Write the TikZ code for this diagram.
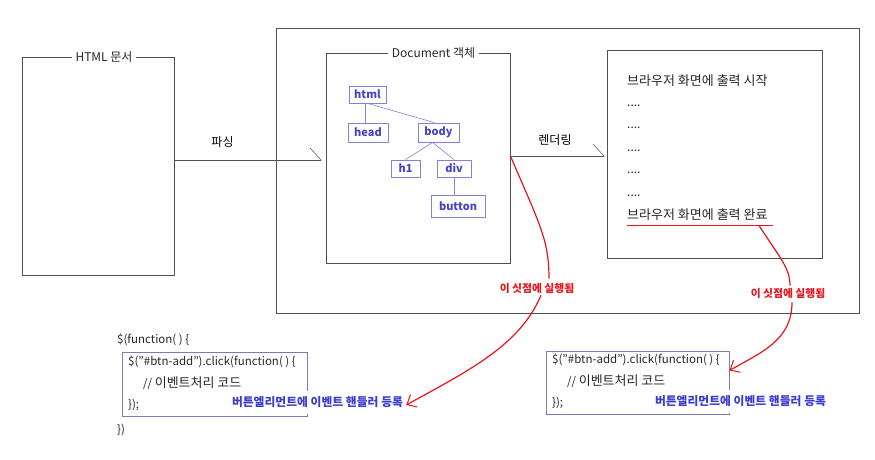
\documentclass[tikz,border=0pt]{standalone}
\usepackage{fontspec}
\setmainfont{Noto Sans CJK KR}
\usetikzlibrary{arrows.meta}
\definecolor{tblue}{HTML}{4646C4}
\definecolor{tborder}{HTML}{8282D6}
\definecolor{cborder}{HTML}{7C7CB4}
\definecolor{lblue}{HTML}{3C3CD0}
\definecolor{rred}{HTML}{E8141E}
\definecolor{fgray}{HTML}{505050}
\newcommand\kor[1]{{\fontsize{13}{14}\selectfont #1}}
\begin{document}
\begin{tikzpicture}[x=1pt,y=-1pt,
  every node/.style={font=\fontsize{12}{14}\selectfont, inner sep=0pt},
  frame/.style={draw=fgray, line width=0.8pt, minimum width=#1},
  ttl/.style={fill=white, inner xsep=4pt, inner ysep=2pt, text=black!85},
  tnode/.style={draw=tborder, line width=0.7pt, text=tblue, font=\fontsize{11}{13}\selectfont\bfseries},
  tline/.style={draw=tborder, line width=0.6pt},
  arr/.style={draw=fgray, line width=0.7pt, -{Straight Barb[left, length=11pt, width=24pt, line width=0.5pt]}},
  plain/.style={anchor=base west, text=black!85},
  bigk/.style={plain, font=\fontsize{13}{15}\selectfont},
  code/.style={anchor=west, text=black!85, font=\fontsize{11.5}{13}\selectfont},
  cbox/.style={draw=cborder, line width=0.8pt},
  blab/.style={fill=white, text=lblue, inner xsep=3pt, minimum height=23pt, font=\fontsize{11.8}{13}\selectfont\bfseries},
  rlab/.style={text=rred, font=\fontsize{10.8}{12}\selectfont\bfseries},
  rc/.style={draw=rred, line width=1.2pt},
  rca/.style={rc, -{Straight Barb[length=8pt, width=14pt, line width=1pt]}}
]
\useasboundingbox (0,0) rectangle (875,460);

% main frames
\node[frame=152pt, minimum height=218pt] (hbox) at (98,166) {};
\node[frame=583pt, minimum height=285pt] (obox) at (567.5,170.5) {};
\node[frame=184pt, minimum height=210pt] (dbox) at (418,158) {};
\node[frame=215pt, minimum height=208pt] (bbox) at (714.5,154) {};
\node[ttl] (htitle) at (104,57) {HTML 문서};
\node[ttl] (dtitle) at (433.5,53) {Document 객체};

% arrows
\path ([yshift=6pt]hbox.east) coordinate (pa);
\draw[arr] (pa) -- ([xshift=-4pt]dbox.west |- pa);
\node (parse) at (222.5,142) {파싱};
\path ([yshift=2pt]dbox.east) coordinate (ra);
\draw[arr] (ra) -- ([xshift=-2pt]bbox.west |- ra);
\node (render) at (555,140) {렌더링};

% DOM tree
\node[tnode, minimum width=37pt, minimum height=17pt] (html) at (367.5,94.5) {html};
\node[tnode, minimum width=40pt, minimum height=19pt] (head) at (368,132.5) {head};
\node[tnode, minimum width=41pt, minimum height=19pt] (body) at (438.5,132.5) {body};
\node[tnode, minimum width=29pt, minimum height=17pt] (h1) at (405.5,168.5) {h1};
\node[tnode, minimum width=34pt, minimum height=17pt] (div) at (454,168.5) {div};
\node[tnode, minimum width=54pt, minimum height=22pt] (button) at (458,206) {button};
\draw[tline] ([xshift=-2pt]html.south) -- ([xshift=-2pt]html.south |- head.north);
\draw[tline] (html.south) -- ([xshift=-4pt]body.north);
\draw[tline] ([xshift=-6pt]body.south) -- (h1.north);
\draw[tline] ([xshift=-6pt]body.south) -- (div.north);
\draw[tline] (div.south) -- (div.south |- button.north);

% browser output
\node[bigk] (s1) at (627,85) {브라우저 화면에 출력 시작};
\node[plain] (d1) at (627,106) {....};
\node[plain] (d2) at (627,128) {....};
\node[plain] (d3) at (627,151) {....};
\node[plain] (d4) at (627,173) {....};
\node[plain] (d5) at (627,196) {....};
\node[bigk] (s2) at (627,219) {브라우저 화면에 출력 완료};
\coordinate (ulA) at (627,225);
\coordinate (ulB) at (773,225);
\coordinate (ulC) at (759,225.5);
\draw[draw=rred, line width=1pt] (ulA) -- (ulB);

% code blocks
\node[code] (f1) at (117,340) {\$(function( ) \{};
\node[cbox, minimum width=185pt, minimum height=64pt] (cb1) at (214.5,384) {};
\node[code] (c11) at (128,362) {\$("\#btn-add").click(function( ) \{};
\node[code] (c12) at (143,383) {// \kor{이벤트처리 코드}};
\node[code] (c13) at (128,405) {\});};
\node[code] (f2) at (117,430) {\})};
\node[blab] (bl1) at (317.5,402) {버튼엘리먼트에 이벤트 핸들러 등록};

\node[cbox, minimum width=183pt, minimum height=63pt] (cb2) at (637.5,382.5) {};
\node[code] (c21) at (552,360) {\$("\#btn-add").click(function( ) \{};
\node[code] (c22) at (567,381) {// \kor{이벤트처리 코드}};
\node[code] (c23) at (552,403) {\});};
\node[blab] (bl2) at (740.5,401) {버튼엘리먼트에 이벤트 핸들러 등록};

% red labels and curves
\node[rlab] (r1) at (537,288) {이 싯점에 실행됨};
\node[rlab] (r2) at (788,293) {이 싯점에 실행됨};
\draw[rc] (ra) .. controls (540,225) and (549,240) .. ([xshift=12pt,yshift=4pt]r1.north);
\draw[rca] ([xshift=4pt,yshift=-2pt]r1.south) .. controls (520,345) and (470,370) .. ([yshift=-3pt]bl1.east);
\draw[rc] (ulC) .. controls (780,258) and (790,268) .. ([xshift=2pt,yshift=2pt]r2.north);
\draw[rca] ([xshift=4pt,yshift=-4pt]r2.south) .. controls (792,340) and (762,352) .. ([yshift=12pt]cb2.east);
\end{tikzpicture}
\end{document}
